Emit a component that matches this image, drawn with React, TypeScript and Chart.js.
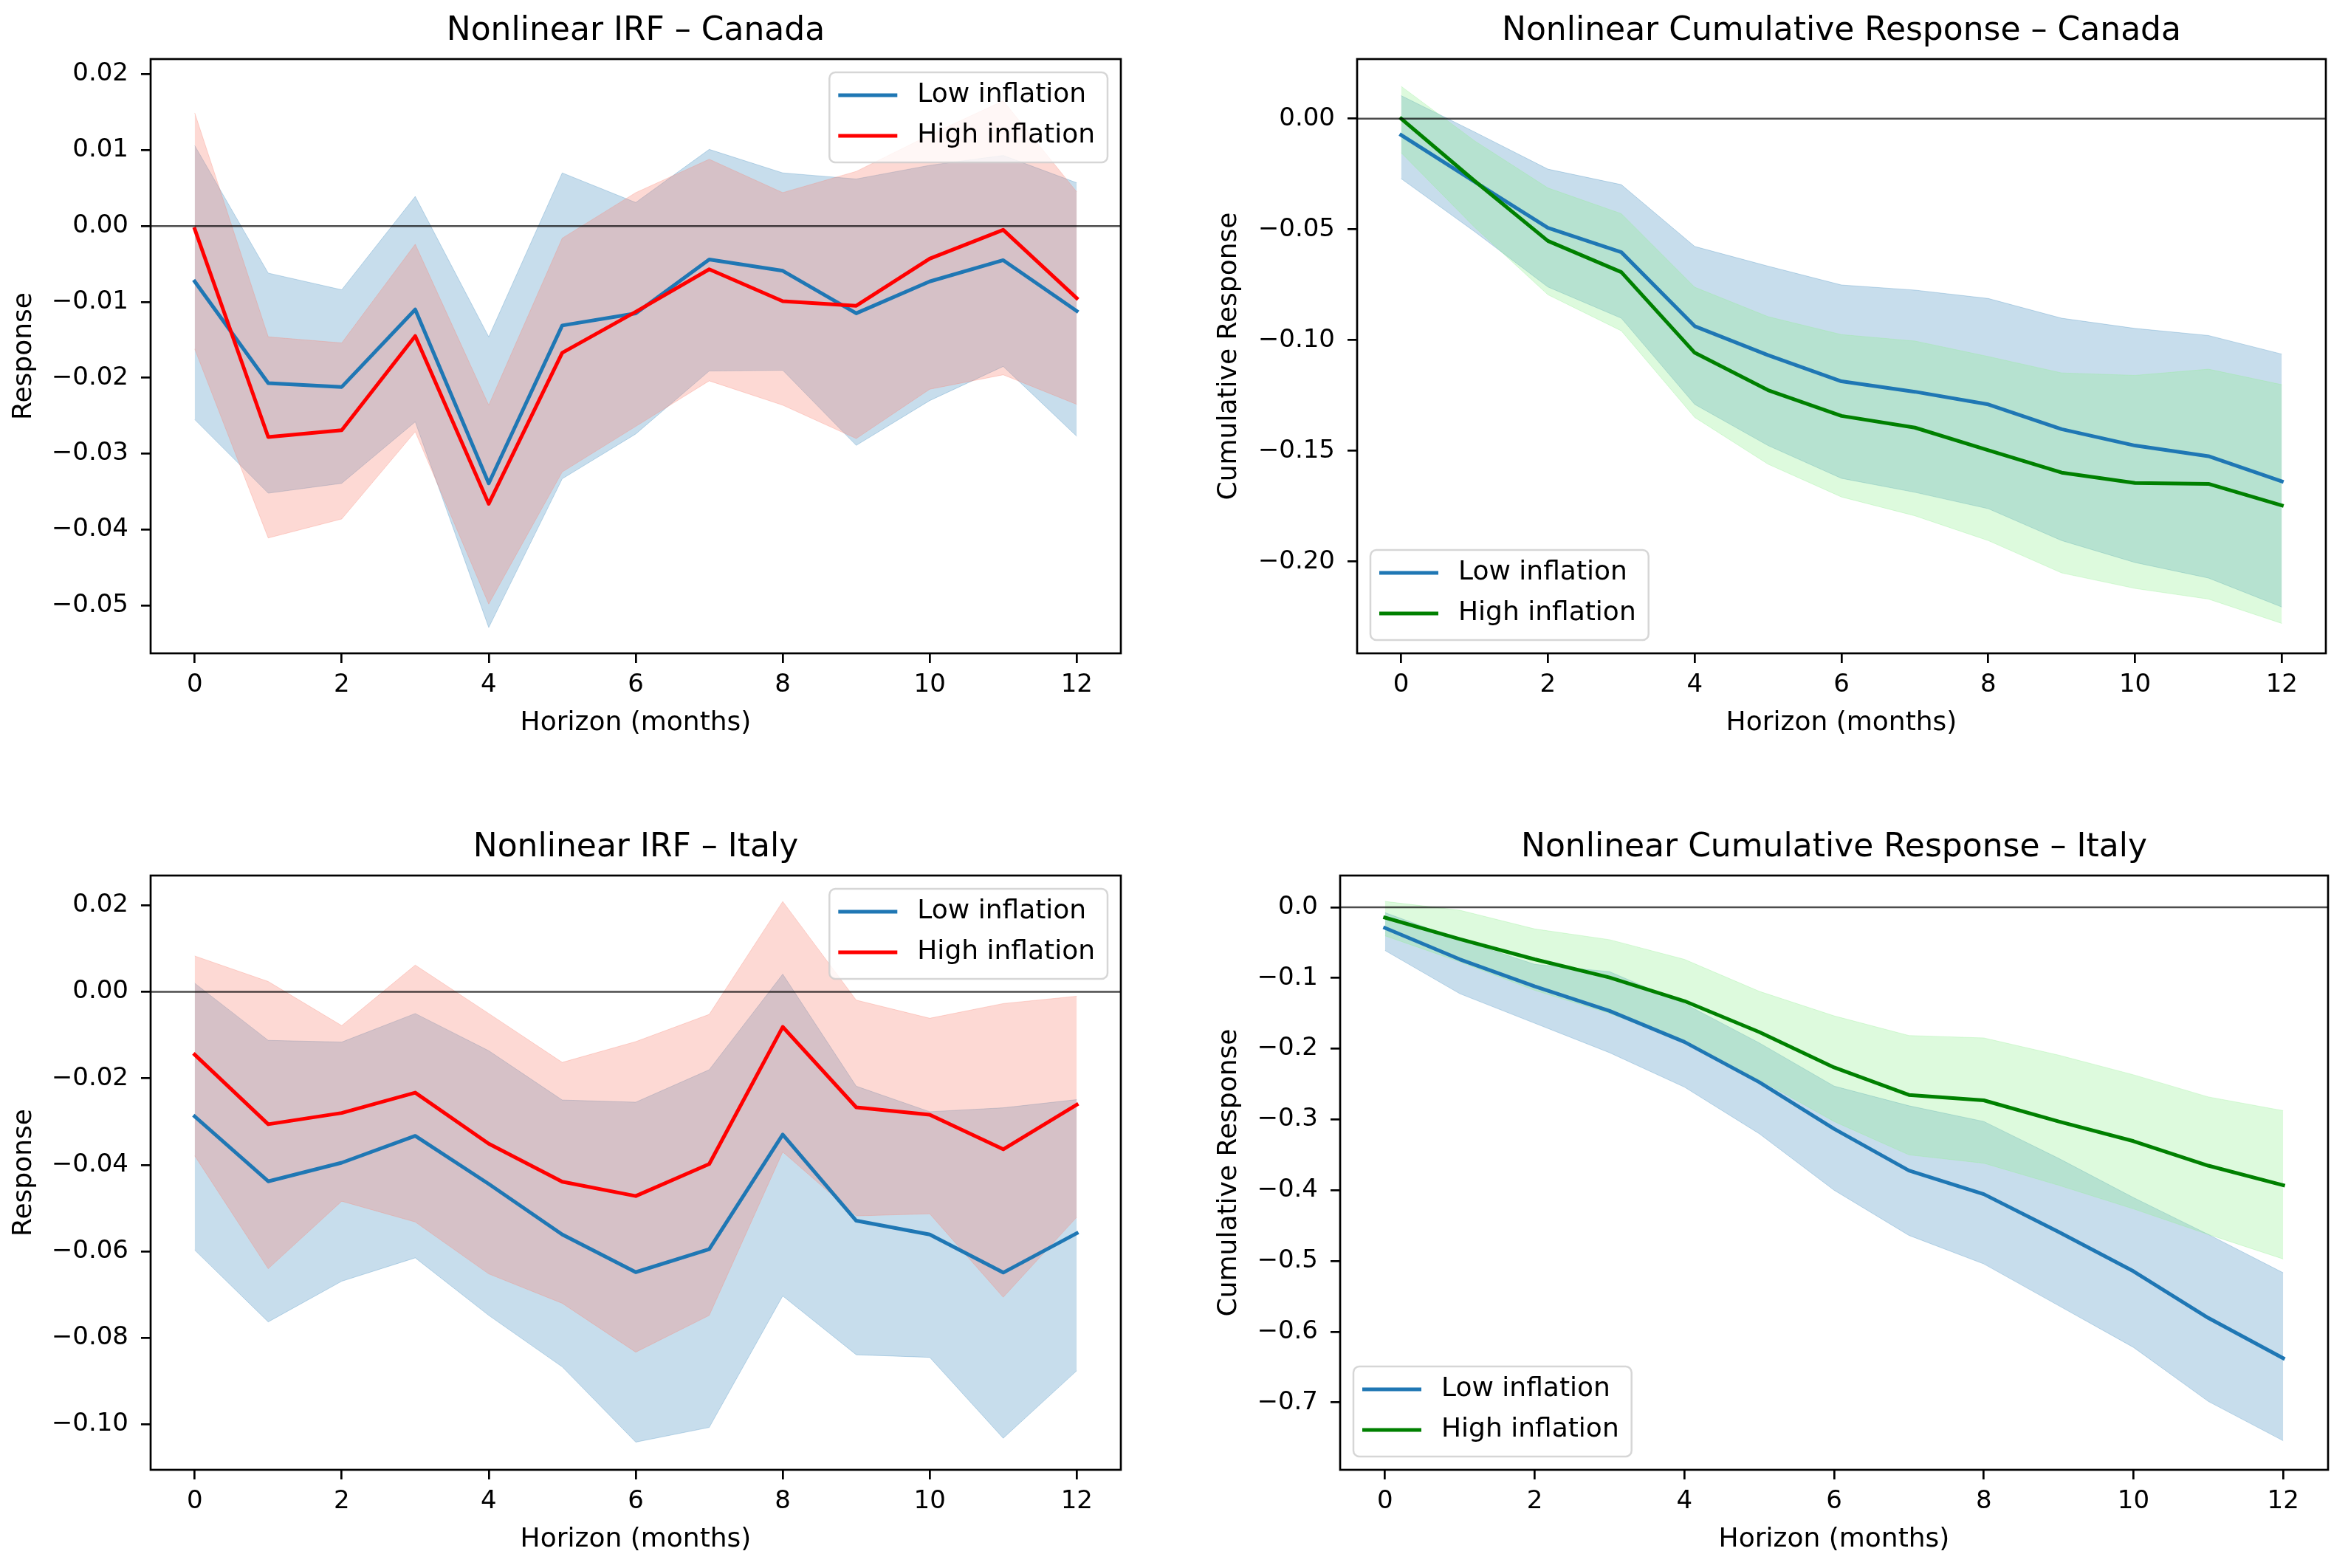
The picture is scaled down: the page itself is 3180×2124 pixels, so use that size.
import React, { useEffect, useRef } from "react";
import Chart from "chart.js/auto";

Chart.defaults.font.family = "'DejaVu Sans', sans-serif";
Chart.defaults.color = "#000";

const horizons = [0, 1, 2, 3, 4, 5, 6, 7, 8, 9, 10, 11, 12];
const xTicks = [0, 2, 4, 6, 8, 10, 12];
const seriesLabels = ["Low inflation", "High inflation"];

// Nonlinear IRF - Canada
const canadaIrfLow = [-0.0073, -0.0207, -0.0212, -0.011, -0.0339, -0.0131, -0.0115, -0.0044, -0.0059, -0.0115, -0.0073, -0.0045, -0.0112];
const canadaIrfLowUpper = [0.0106, -0.0062, -0.0084, 0.0039, -0.0146, 0.007, 0.0031, 0.0101, 0.007, 0.0062, 0.008, 0.0093, 0.0057];
const canadaIrfLowLower = [-0.0255, -0.0352, -0.0339, -0.0258, -0.0529, -0.0333, -0.0274, -0.0191, -0.019, -0.0289, -0.023, -0.0185, -0.0277];
const canadaIrfHigh = [-0.0004, -0.0278, -0.0269, -0.0145, -0.0366, -0.0167, -0.0113, -0.0057, -0.0099, -0.0105, -0.0043, -0.0005, -0.0095];
const canadaIrfHighUpper = [0.0149, -0.0146, -0.0154, -0.0024, -0.0236, -0.0016, 0.0044, 0.0088, 0.0044, 0.0072, 0.012, 0.0165, 0.0045];
const canadaIrfHighLower = [-0.0162, -0.0411, -0.0386, -0.0271, -0.0498, -0.0324, -0.0264, -0.0204, -0.0236, -0.028, -0.0215, -0.0196, -0.0235];
const canadaIrfTicks = [-0.05, -0.04, -0.03, -0.02, -0.01, 0, 0.01, 0.02];

// Nonlinear Cumulative Response - Canada
const canadaCumLow = [-0.0074, -0.0285, -0.0493, -0.0603, -0.0937, -0.1068, -0.1186, -0.1233, -0.129, -0.1402, -0.1476, -0.1524, -0.1638];
const canadaCumLowUpper = [0.0104, -0.006, -0.0228, -0.0298, -0.0577, -0.0666, -0.0751, -0.0774, -0.0812, -0.0901, -0.0947, -0.0979, -0.1063];
const canadaCumLowLower = [-0.0271, -0.051, -0.076, -0.0901, -0.129, -0.1476, -0.1624, -0.1687, -0.1761, -0.1905, -0.2004, -0.2074, -0.2205];
const canadaCumHigh = [0.0, -0.0281, -0.0552, -0.0693, -0.1057, -0.1226, -0.1342, -0.1395, -0.1497, -0.1598, -0.1645, -0.1649, -0.1746];
const canadaCumHighUpper = [0.0146, -0.01, -0.0313, -0.0429, -0.0761, -0.0894, -0.0975, -0.1004, -0.1074, -0.1148, -0.1159, -0.1131, -0.1201];
const canadaCumHighLower = [-0.0154, -0.049, -0.0795, -0.0958, -0.1349, -0.156, -0.1708, -0.1793, -0.1905, -0.2051, -0.2121, -0.2169, -0.2279];
const canadaCumTicks = [-0.2, -0.15, -0.1, -0.05, 0];

// Nonlinear IRF - Italy
const italyIrfLow = [-0.0288, -0.0438, -0.0395, -0.0333, -0.0444, -0.0561, -0.0648, -0.0595, -0.033, -0.0529, -0.0561, -0.0649, -0.0558];
const italyIrfLowUpper = [0.002, -0.0112, -0.0116, -0.005, -0.0136, -0.025, -0.0255, -0.018, 0.0041, -0.0218, -0.0277, -0.0268, -0.0249];
const italyIrfLowLower = [-0.0597, -0.0763, -0.0669, -0.0615, -0.0748, -0.0867, -0.1041, -0.1007, -0.0703, -0.0839, -0.0845, -0.1032, -0.0876];
const italyIrfHigh = [-0.0145, -0.0306, -0.028, -0.0233, -0.0351, -0.0439, -0.0472, -0.0398, -0.0081, -0.0267, -0.0284, -0.0364, -0.0261];
const italyIrfHighUpper = [0.0083, 0.0024, -0.0078, 0.0062, -0.005, -0.0163, -0.0115, -0.0052, 0.0209, -0.0019, -0.0061, -0.0027, -0.001];
const italyIrfHighLower = [-0.0379, -0.064, -0.0484, -0.0532, -0.0652, -0.072, -0.0833, -0.0748, -0.037, -0.0518, -0.0513, -0.0706, -0.0521];
const italyIrfTicks = [-0.1, -0.08, -0.06, -0.04, -0.02, 0, 0.02];

// Nonlinear Cumulative Response - Italy
const italyCumLow = [-0.0292, -0.0736, -0.1118, -0.1465, -0.1903, -0.2472, -0.3132, -0.3722, -0.4056, -0.459, -0.5146, -0.5806, -0.6375];
const italyCumLowUpper = [-0.0076, -0.0458, -0.0806, -0.091, -0.1361, -0.1917, -0.2528, -0.2806, -0.3028, -0.3549, -0.4104, -0.4625, -0.5167];
const italyCumLowLower = [-0.0611, -0.1222, -0.1639, -0.2056, -0.2542, -0.3201, -0.4, -0.4639, -0.5042, -0.5632, -0.6222, -0.6986, -0.7542];
const italyCumHigh = [-0.0146, -0.045, -0.0736, -0.0993, -0.1326, -0.1764, -0.2264, -0.2653, -0.2729, -0.3028, -0.3306, -0.3653, -0.393];
const italyCumHighUpper = [0.0083, -0.0042, -0.0306, -0.0458, -0.0736, -0.1188, -0.1535, -0.1813, -0.1847, -0.209, -0.2368, -0.2681, -0.2875];
const italyCumHighLower = [-0.0403, -0.0771, -0.1174, -0.15, -0.19, -0.2438, -0.3028, -0.35, -0.3618, -0.393, -0.4264, -0.4625, -0.4972];
const italyCumTicks = [-0.7, -0.6, -0.5, -0.4, -0.3, -0.2, -0.1, 0];

const LOW_COLOR = "#1f77b4";
const LOW_FILL = "rgba(31, 119, 180, 0.25)";

const fmt = (v: number, d: number) => {
  const s = Math.abs(v).toFixed(d);
  return v < -1e-12 ? "\u2212" + s : s;
};

const pts = (arr: number[]) => horizons.map((h, i) => ({ x: h, y: arr[i] }));

// frame, zero line and a matplotlib-like legend inside the axes
const mplPlugin = {
  id: "mpl",
  afterDatasetsDraw(chart: any, _args: any, opts: any) {
    const { ctx, chartArea: a, scales } = chart;
    ctx.save();
    const y0 = scales.y.getPixelForValue(0);
    ctx.strokeStyle = "rgba(0,0,0,0.7)";
    ctx.lineWidth = 2.5;
    ctx.beginPath();
    ctx.moveTo(a.left, y0);
    ctx.lineTo(a.right, y0);
    ctx.stroke();

    ctx.strokeStyle = "#000";
    ctx.lineWidth = 2.7;
    ctx.strokeRect(a.left, a.top, a.right - a.left, a.bottom - a.top);

    const items = opts.items || [];
    ctx.font = "36px 'DejaVu Sans', sans-serif";
    const tw = Math.max(...items.map((it: any) => ctx.measureText(it.label).width));
    const w = 12 + 80 + 27 + tw + 17;
    const h = 122;
    const bx = opts.corner === "upper right" ? a.right - 18 - w : a.left + 18;
    const by = opts.corner === "upper right" ? a.top + 18 : a.bottom - 18 - h;
    ctx.beginPath();
    ctx.roundRect(bx, by, w, h, 8);
    ctx.fillStyle = "rgba(255,255,255,0.8)";
    ctx.fill();
    ctx.strokeStyle = "rgba(204,204,204,0.8)";
    ctx.lineWidth = 2.5;
    ctx.stroke();
    items.forEach((it: any, i: number) => {
      const cy = by + 31 + i * 55;
      ctx.strokeStyle = it.color;
      ctx.lineWidth = 5;
      ctx.beginPath();
      ctx.moveTo(bx + 12, cy);
      ctx.lineTo(bx + 92, cy);
      ctx.stroke();
      ctx.fillStyle = "#000";
      ctx.textBaseline = "middle";
      ctx.textAlign = "left";
      ctx.fillText(it.label, bx + 119, cy);
    });
    ctx.restore();
  },
};

interface PanelProps {
  title: string;
  yTitle: string;
  low: number[];
  lowUpper: number[];
  lowLower: number[];
  high: number[];
  highUpper: number[];
  highLower: number[];
  highColor: string;
  highFill: string;
  yTicks: number[];
  yMin: number;
  yMax: number;
  decimals: number;
  corner: string;
  plotLeft: number;
  plotRight: number;
  plotTop: number;
  yTitleX: number;
}

const Y_AXIS_W = 200;
const X_AXIS_H = 130;
const TITLE_H = 80;
const PLOT_H = 805;
const RIGHT_PAD = 20;

function Panel(p: PanelProps) {
  const canvasRef = useRef<any>(null);
  const left = p.plotLeft - Y_AXIS_W;
  const top = p.plotTop - TITLE_H;
  const width = p.plotRight - p.plotLeft + Y_AXIS_W + RIGHT_PAD;
  const height = TITLE_H + PLOT_H + X_AXIS_H;

  useEffect(() => {
    const band = (arr: number[], color: string) => ({
      data: pts(arr),
      borderColor: color,
      backgroundColor: color,
      borderWidth: 1,
      pointRadius: 0,
      tension: 0,
    });
    const line = (arr: number[], color: string) => ({
      data: pts(arr),
      borderColor: color,
      backgroundColor: color,
      borderWidth: 5,
      pointRadius: 0,
      tension: 0,
      fill: false,
      borderJoinStyle: "round",
      borderCapStyle: "square",
    });
    const chart = new Chart(canvasRef.current, {
      type: "line",
      data: {
        datasets: [
          { ...band(p.lowUpper, LOW_FILL), fill: 1, order: 4 },
          { ...band(p.lowLower, LOW_FILL), fill: false, order: 4 },
          { ...band(p.highUpper, p.highFill), fill: 3, order: 3 },
          { ...band(p.highLower, p.highFill), fill: false, order: 3 },
          { ...line(p.low, LOW_COLOR), order: 2 },
          { ...line(p.high, p.highColor), order: 1 },
        ] as any,
      },
      options: {
        animation: false,
        responsive: true,
        maintainAspectRatio: false,
        layout: { padding: { left: 0, right: RIGHT_PAD, top: 0, bottom: 0 } },
        plugins: {
          legend: { display: false },
          tooltip: { enabled: false },
          title: {
            display: true,
            fullSize: false,
            text: p.title,
            color: "#000",
            font: { size: 44, weight: "normal" },
            padding: { top: 16.6, bottom: 10.6 },
          },
          mpl: {
            corner: p.corner,
            items: [
              { label: seriesLabels[0], color: LOW_COLOR },
              { label: seriesLabels[1], color: p.highColor },
            ],
          },
        } as any,
        scales: {
          x: {
            type: "linear",
            min: -0.6,
            max: 12.6,
            border: { display: false },
            grid: { drawOnChartArea: false, drawTicks: true, tickLength: 13, color: "#000", lineWidth: 2.7 },
            ticks: { font: { size: 34 }, color: "#000", padding: 10, autoSkip: false, maxRotation: 0, callback: (v: any) => String(v) },
            afterBuildTicks: (s: any) => {
              s.ticks = xTicks.map((v) => ({ value: v }));
            },
            afterFit: (s: any) => {
              s.height = X_AXIS_H;
            },
            title: { display: true, text: "Horizon (months)", color: "#000", font: { size: 36 }, padding: { top: 0, bottom: 13.4 } },
          },
          y: {
            type: "linear",
            min: p.yMin,
            max: p.yMax,
            border: { display: false },
            grid: { drawOnChartArea: false, drawTicks: true, tickLength: 13, color: "#000", lineWidth: 2.7 },
            ticks: { font: { size: 34 }, color: "#000", padding: 17, autoSkip: false, callback: (v: any) => fmt(Number(v), p.decimals) },
            afterBuildTicks: (s: any) => {
              s.ticks = p.yTicks.map((v) => ({ value: v }));
            },
            afterFit: (s: any) => {
              s.width = Y_AXIS_W;
            },
            title: { display: true, text: p.yTitle, color: "#000", font: { size: 36 }, padding: { top: p.yTitleX - left - 21.6, bottom: 0 } },
          },
        } as any,
      },
      plugins: [mplPlugin as any],
    } as any);
    return () => {
      chart.destroy();
    };
  }, []);

  return (
    <div style={{ position: "absolute", left, top, width, height }}>
      <canvas ref={canvasRef} />
    </div>
  );
}

export default function App() {
  return (
    <div style={{ position: "absolute", left: 0, top: 0, width: 3180, height: 2124, background: "#fff", overflow: "hidden" }}>
      <Panel
        title="Nonlinear IRF – Canada"
        yTitle="Response"
        low={canadaIrfLow}
        lowUpper={canadaIrfLowUpper}
        lowLower={canadaIrfLowLower}
        high={canadaIrfHigh}
        highUpper={canadaIrfHighUpper}
        highLower={canadaIrfHighLower}
        highColor="#ff0000"
        highFill="rgba(250, 128, 114, 0.3)"
        yTicks={canadaIrfTicks}
        yMin={-0.0563}
        yMax={0.022}
        decimals={2}
        corner="upper right"
        plotLeft={204}
        plotRight={1518}
        plotTop={80}
        yTitleX={33}
      />
      <Panel
        title="Nonlinear Cumulative Response – Canada"
        yTitle="Cumulative Response"
        low={canadaCumLow}
        lowUpper={canadaCumLowUpper}
        lowLower={canadaCumLowLower}
        high={canadaCumHigh}
        highUpper={canadaCumHighUpper}
        highLower={canadaCumHighLower}
        highColor="#008000"
        highFill="rgba(144, 238, 144, 0.3)"
        yTicks={canadaCumTicks}
        yMin={-0.2414}
        yMax={0.0269}
        decimals={2}
        corner="lower left"
        plotLeft={1838}
        plotRight={3150}
        plotTop={80}
        yTitleX={1665}
      />
      <Panel
        title="Nonlinear IRF – Italy"
        yTitle="Response"
        low={italyIrfLow}
        lowUpper={italyIrfLowUpper}
        lowLower={italyIrfLowLower}
        high={italyIrfHigh}
        highUpper={italyIrfHighUpper}
        highLower={italyIrfHighLower}
        highColor="#ff0000"
        highFill="rgba(250, 128, 114, 0.3)"
        yTicks={italyIrfTicks}
        yMin={-0.1105}
        yMax={0.0269}
        decimals={2}
        corner="upper right"
        plotLeft={204}
        plotRight={1518}
        plotTop={1186}
        yTitleX={33}
      />
      <Panel
        title="Nonlinear Cumulative Response – Italy"
        yTitle="Cumulative Response"
        low={italyCumLow}
        lowUpper={italyCumLowUpper}
        lowLower={italyCumLowLower}
        high={italyCumHigh}
        highUpper={italyCumHighUpper}
        highLower={italyCumHighLower}
        highColor="#008000"
        highFill="rgba(144, 238, 144, 0.3)"
        yTicks={italyCumTicks}
        yMin={-0.7953}
        yMax={0.0449}
        decimals={1}
        corner="lower left"
        plotLeft={1815}
        plotRight={3153}
        plotTop={1186}
        yTitleX={1665}
      />
    </div>
  );
}
